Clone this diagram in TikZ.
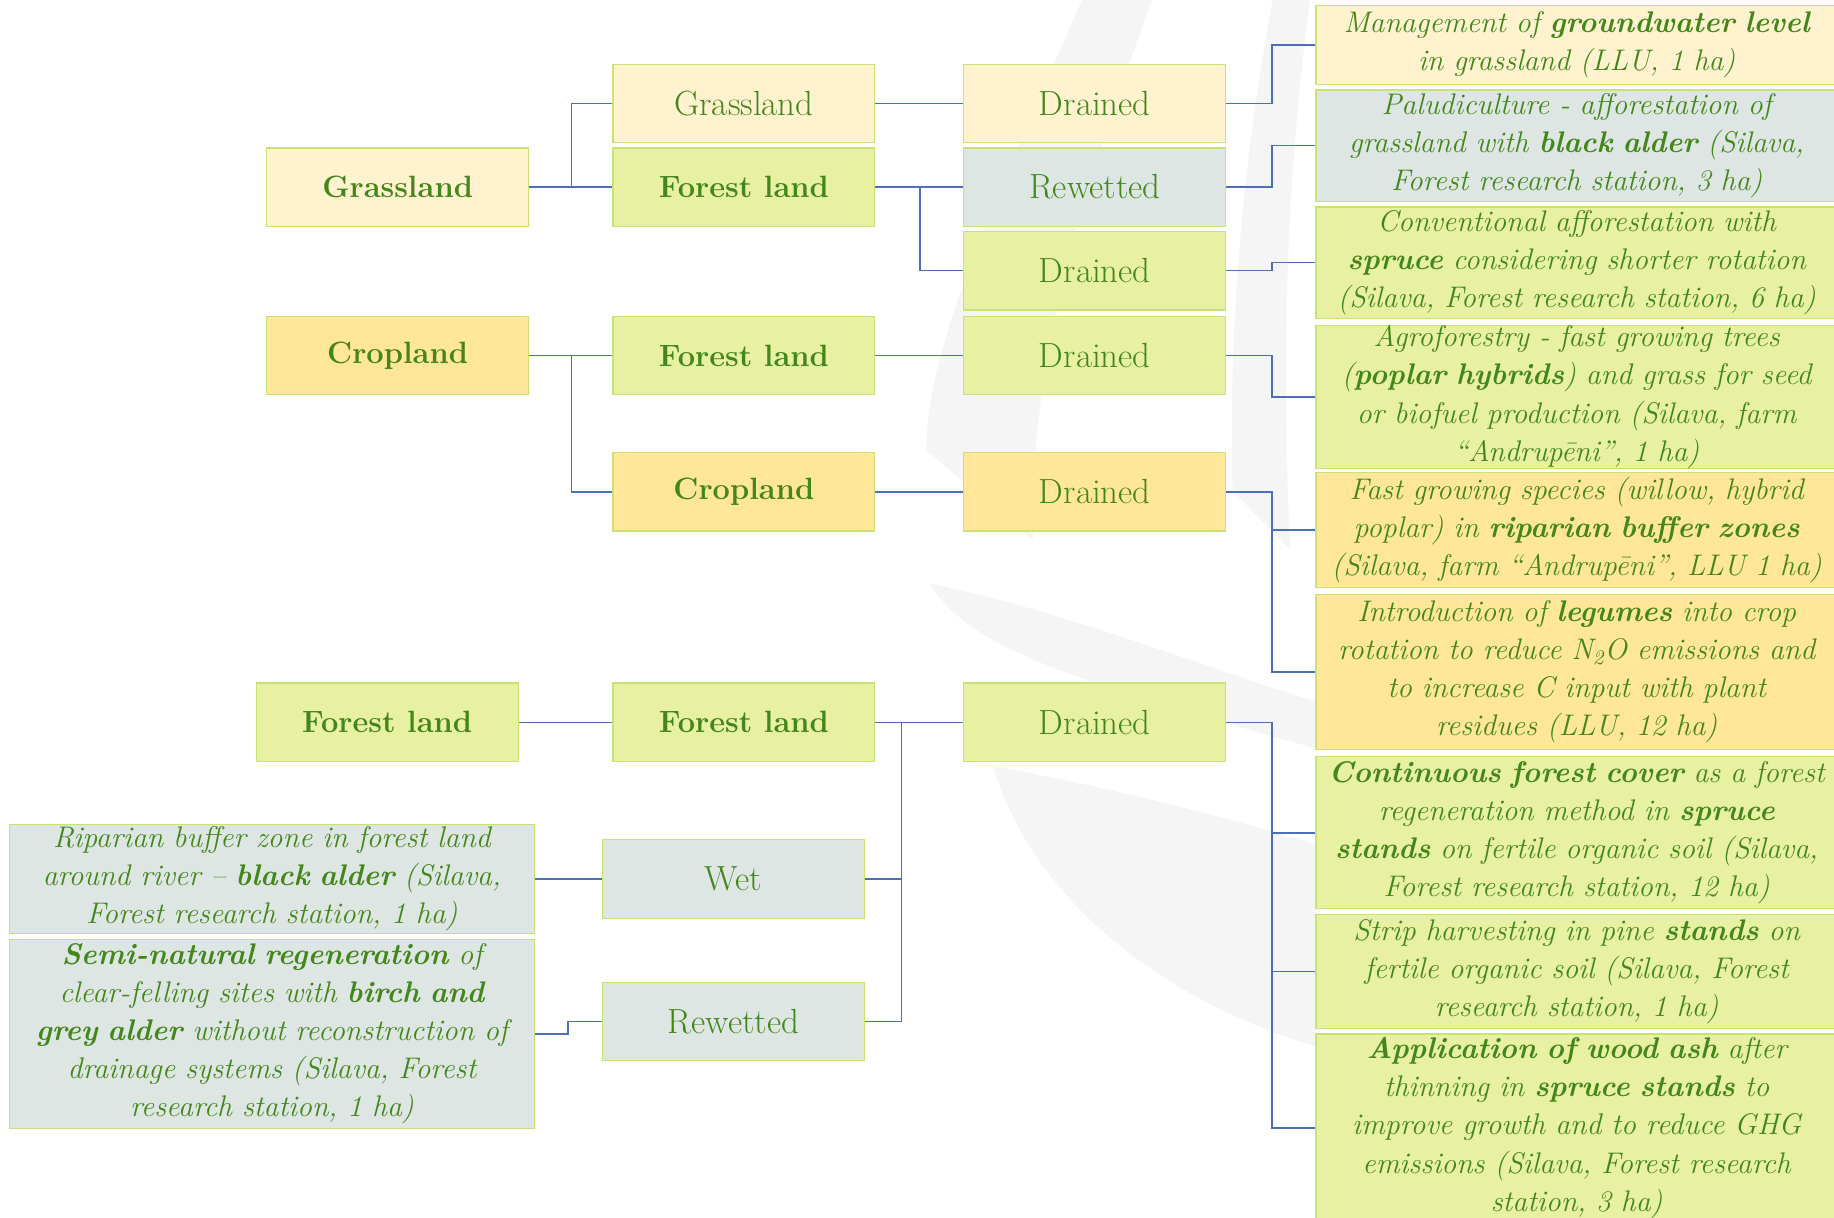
\documentclass[tikz,border=0pt]{standalone}
\usepackage{tikz}
\definecolor{txtgreen}{HTML}{43861A}
\definecolor{cream}{HTML}{FFF3CF}
\definecolor{gold}{HTML}{FFE699}
\definecolor{leaf}{HTML}{E8F1A1}
\definecolor{mist}{HTML}{DEE6E4}
\definecolor{rim}{HTML}{C8E274}
\definecolor{wire}{HTML}{4A70B8}
\tikzset{box/.style={draw=rim,line width=.6pt,text=txtgreen,minimum width=4.48cm,
           minimum height=1.34cm,inner sep=2pt,align=center,font=\fontsize{17}{20}\selectfont},
         big/.style={box,font=\fontsize{15}{18}\selectfont\bfseries},
         note/.style={draw=rim,line width=.6pt,text=txtgreen,text width=8.72cm,inner xsep=.1cm,
           inner ysep=0pt,align=center,font=\fontsize{14.5}{18.5}\selectfont\itshape},
         link/.style={draw=wire,line width=.7pt},
         globe/.style={fill=black!4}}

\begin{document}
\begin{tikzpicture}[x=0.02cm,y=-0.02cm]
  \useasboundingbox (0,0) rectangle (1568,1041);
  % faint logo behind the chart
  \fill[globe] (925,0) .. controls (860,150) and (790,300) .. (792,385) -- (883,462)
    .. controls (880,300) and (930,150) .. (985,0) -- cycle;
  \fill[globe] (1088,0) .. controls (1060,150) and (1050,300) .. (1054,420) -- (1103,470)
    .. controls (1095,300) and (1100,150) .. (1120,0) -- cycle;
  \fill[globe] (795,499) .. controls (830,560) and (950,590) .. (1125,640) -- (1125,600)
    .. controls (1000,560) and (900,520) .. (795,499) -- cycle;
  \fill[globe] (849,655) .. controls (880,760) and (980,850) .. (1125,895) -- (1125,722)
    .. controls (1020,690) and (930,670) .. (849,655) -- cycle;

  % land use now
  \node[big,fill=cream] (grass) at (340,160) {Grassland};
  \node[big,fill=gold] (crop) at (340,304) {Cropland};
  \node[big,fill=leaf] (forest) at (331,617.5) {Forest land};
  % land use after
  \node[box,fill=cream] (grassG) at (636,88.5) {Grassland};
  \node[big,fill=leaf] (grassF) at (636,160) {Forest land};
  \node[big,fill=leaf] (cropF) at (636,304) {Forest land};
  \node[big,fill=gold] (cropC) at (636,420.5) {Cropland};
  \node[big,fill=leaf] (forestF) at (636,617.5) {Forest land};
  \node[box,fill=mist] (wet) at (627,751.5) {Wet};
  \node[box,fill=mist] (rewet) at (627,873.5) {Rewetted};
  % water regime
  \node[box,fill=cream] (grassGD) at (936,88.5) {Drained};
  \node[box,fill=mist] (grassFR) at (936,160) {Rewetted};
  \node[box,fill=leaf] (grassFD) at (936,231.5) {Drained};
  \node[box,fill=leaf] (cropFD) at (936,304) {Drained};
  \node[box,fill=gold] (cropCD) at (936,420.5) {Drained};
  \node[box,fill=leaf] (forestFD) at (936,617.5) {Drained};

  % measures
  \node[note,fill=cream,minimum height=1.34cm] (m1) at (1348,38.5)
    {Management of \textbf{groundwater level}\\ in grassland (LLU, 1 ha)};
  \node[note,fill=mist,minimum height=1.9cm] (m2) at (1348,124.5)
    {Paludiculture - afforestation of\\ grassland with \textbf{black alder} (Silava,\\
     Forest research station, 3 ha)};
  \node[note,fill=leaf,minimum height=1.9cm] (m3) at (1348,224.5)
    {Conventional afforestation with\\ \textbf{spruce} considering shorter rotation\\
     (Silava, Forest research station, 6 ha)};
  \node[note,fill=leaf,minimum height=2.42cm] (m4) at (1348,339.5)
    {Agroforestry - fast growing trees\\ (\textbf{poplar hybrids}) and grass for seed\\
     or biofuel production (Silava, farm\\ ``Andrupēni'', 1 ha)};
  \node[note,fill=gold,minimum height=1.96cm] (m5) at (1348,453)
    {Fast growing species (willow, hybrid\\ poplar) in \textbf{riparian buffer zones}\\
     (Silava, farm ``Andrupēni'', LLU 1 ha)};
  \node[note,fill=gold,minimum height=2.66cm] (m6) at (1348,574.5)
    {Introduction of \textbf{legumes} into crop\\ rotation to reduce N\textsubscript{2}O emissions and\\
     to increase C input with plant\\ residues (LLU, 12 ha)};
  \node[note,fill=leaf,minimum height=2.6cm] (m7) at (1348,712)
    {\textbf{Continuous forest cover} as a forest\\ regeneration method in \textbf{spruce}\\
     \textbf{stands} on fertile organic soil (Silava,\\ Forest research station, 12 ha)};
  \node[note,fill=leaf,minimum height=1.94cm] (m8) at (1348,830.5)
    {Strip harvesting in pine \textbf{stands} on\\ fertile organic soil (Silava, Forest\\
     research station, 1 ha)};
  \node[note,fill=leaf,minimum height=3.22cm] (m9) at (1348,964.5)
    {\textbf{Application of wood ash} after\\ thinning in \textbf{spruce stands} to\\
     improve growth and to reduce GHG\\ emissions (Silava, Forest research\\ station, 3 ha)};
  \node[note,fill=mist,text width=8.78cm,minimum height=1.86cm] (rip) at (232.5,751.5)
    {Riparian buffer zone in forest land\\ around river -- \textbf{black alder} (Silava,\\
     Forest research station, 1 ha)};
  \node[note,fill=mist,text width=8.78cm,minimum height=3.24cm] (semi) at (232.5,884)
    {\textbf{Semi-natural regeneration} of\\ clear-felling sites with \textbf{birch and}\\
     \textbf{grey alder} without reconstruction of\\ drainage systems (Silava, Forest\\
     research station, 1 ha)};

  % connectors
  \draw[link] (grass.east) -- ++(36,0) |- (grassG.west);
  \draw[link] (grass) -- (grassF);
  \draw[link] (crop) -- (cropF);
  \draw[link] (crop.east) -- ++(36,0) |- (cropC.west);
  \draw[link] (forest) -- (forestF);
  \draw[link] (grassG) -- (grassGD);
  \draw[link] (grassF) -- (grassFR);
  \draw[link] (grassF.east) -- ++(38,0) |- (grassFD.west);
  \draw[link] (cropF) -- (cropFD);
  \draw[link] (cropC) -- (cropCD);
  \draw[link] (forestF) -- (forestFD);
  \draw[link] (forestF.east) -- ++(22,0) |- (wet.east);
  \draw[link] (forestF.east) -- ++(22,0) |- (rewet.east);
  \draw[link] (wet) -- (rip);
  \draw[link] (rewet.west) -- ++(-29,0) |- (semi.east);
  \draw[link] (grassGD.east) -- ++(39,0) |- (m1.west);
  \draw[link] (grassFR.east) -- ++(39,0) |- (m2.west);
  \draw[link] (grassFD.east) -- ++(39,0) |- (m3.west);
  \draw[link] (cropFD.east) -- ++(39,0) |- (m4.west);
  \foreach \m in {m5,m6}
    \draw[link] (cropCD.east) -- ++(39,0) |- (\m.west);
  \foreach \m in {m7,m8,m9}
    \draw[link] (forestFD.east) -- ++(39,0) |- (\m.west);
\end{tikzpicture}
\end{document}
